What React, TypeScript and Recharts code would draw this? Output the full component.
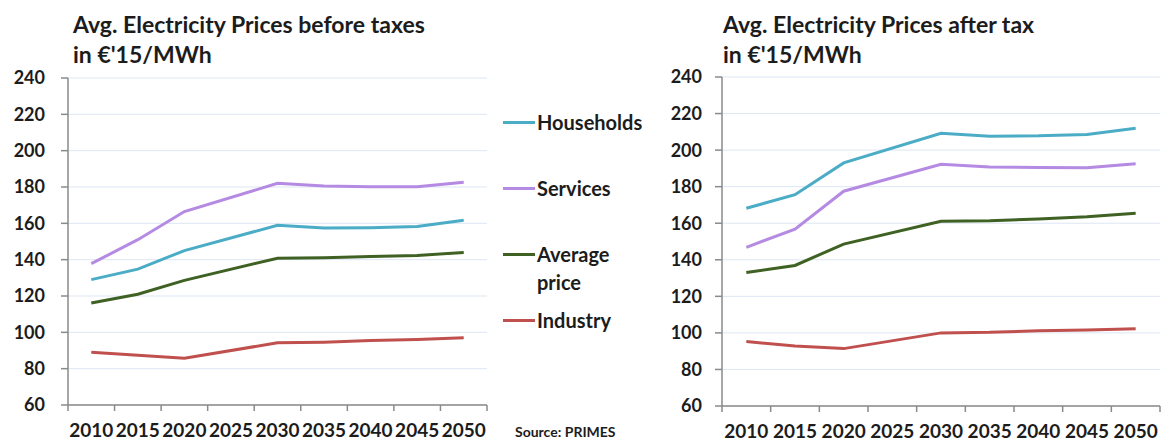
import React from "react";
import { LineChart, Line, XAxis, YAxis, CartesianGrid, Legend } from "recharts";

const years = [2010, 2015, 2020, 2025, 2030, 2035, 2040, 2045, 2050];
const yTicks = [60, 80, 100, 120, 140, 160, 180, 200, 220, 240];

// Before taxes (2025 has no point: line is drawn straight from 2020 to 2030)
const householdsBefore = [129, 134.8, 145, null, 158.9, 157.4, 157.6, 158.3, 161.7];
const servicesBefore = [137.8, 151, 166.5, null, 182, 180.6, 180.2, 180.1, 182.6];
const averageBefore = [116.2, 121, 128.6, null, 140.8, 141, 141.7, 142.3, 144];
const industryBefore = [89, 87.4, 85.8, null, 94.2, 94.6, 95.5, 96, 97];

// After tax
const householdsAfter = [168.2, 175.6, 193, null, 209.2, 207.6, 207.8, 208.6, 212];
const servicesAfter = [146.8, 156.8, 177.5, null, 192.2, 190.7, 190.5, 190.3, 192.5];
const averageAfter = [133, 136.9, 148.6, null, 161.1, 161.3, 162.3, 163.6, 165.5];
const industryAfter = [95.3, 92.8, 91.4, null, 100, 100.3, 101.2, 101.6, 102.3];

const seriesNames = ["Households", "Services", "Average price", "Industry"];
const seriesKeys = ["households", "services", "average", "industry"];
const seriesColors = ["#4bacc6", "#b58ae2", "#3f6123", "#c0504d"];

const legendLines: Record<string, string[]> = {
  Households: ["Households"],
  Services: ["Services"],
  "Average price": ["Average", "price"],
  Industry: ["Industry"],
};

const build = (a: (number | null)[], b: (number | null)[], c: (number | null)[], d: (number | null)[]) =>
  years.map((y, i) => ({ year: y, households: a[i], services: b[i], average: c[i], industry: d[i] }));

const dataBefore = build(householdsBefore, servicesBefore, averageBefore, industryBefore);
const dataAfter = build(householdsAfter, servicesAfter, averageAfter, industryAfter);

const boundaries = [...years.map((y) => y - 2.5), years[years.length - 1] + 2.5];

const FONT = "Lato, 'Open Sans', sans-serif";
const TEXT = "#1c1c1c";
const AXIS = "#8a8a8a";
const GRID = "#dde7f3";

const makeTick = (plotWidth: number) => (props: any) => {
  const { x, y, index } = props;
  if (index >= years.length) return <g />;
  const half = plotWidth / (years.length * 2);
  return (
    <text x={x + half} y={y} dy="0.71em" textAnchor="middle" fontSize={19} fontWeight={700} fill={TEXT} fontFamily={FONT}>
      {String(years[index])}
    </text>
  );
};

const renderLegend = (props: any) => {
  const payload = [...(props.payload || [])].sort(
    (a: any, b: any) => seriesNames.indexOf(a.value) - seriesNames.indexOf(b.value)
  );
  return (
    <div style={{ position: "relative", width: 160, height: 240, fontFamily: FONT }}>
      {payload.map((entry: any, i: number) => {
        const lines = legendLines[entry.value] || [entry.value];
        const cy = 22 + i * 66;
        return (
          <div key={entry.value}>
            <div style={{ position: "absolute", left: 3, top: cy - 1.5, width: 32, height: 3, background: entry.color }} />
            {lines.map((t: string, j: number) => (
              <div
                key={t}
                style={{
                  position: "absolute",
                  left: 37,
                  top: cy - 13 + j * 28,
                  lineHeight: "26px",
                  fontSize: 20,
                  fontWeight: 700,
                  color: TEXT,
                  whiteSpace: "nowrap",
                }}
              >
                {t}
              </div>
            ))}
          </div>
        );
      })}
    </div>
  );
};

const LEFT_W = 660;
const LEFT_MARGIN = { top: 78, right: 173, bottom: 0, left: 0 };
const LEFT_YW = 68;
const LEFT_PLOT_W = LEFT_W - LEFT_MARGIN.left - LEFT_MARGIN.right - LEFT_YW;

const RIGHT_W = 501;
const RIGHT_MARGIN = { top: 77, right: 1, bottom: 0, left: 0 };
const RIGHT_YW = 62;
const RIGHT_PLOT_W = RIGHT_W - RIGHT_MARGIN.left - RIGHT_MARGIN.right - RIGHT_YW;

function Panel({
  data,
  width,
  margin,
  yWidth,
  plotWidth,
  xHeight,
  yTickMargin,
  withLegend,
}: any) {
  return (
    <LineChart width={width} height={443} data={data} margin={margin}>
      <CartesianGrid horizontal vertical={false} stroke={GRID} strokeWidth={1} />
      <XAxis
        dataKey="year"
        type="number"
        domain={[boundaries[0], boundaries[boundaries.length - 1]]}
        ticks={boundaries}
        interval={0}
        height={xHeight}
        axisLine={{ stroke: AXIS, strokeWidth: 1.5 }}
        tickLine={{ stroke: AXIS, strokeWidth: 1.5 }}
        tickSize={6}
        tickMargin={13}
        tick={makeTick(plotWidth)}
      />
      <YAxis
        domain={[60, 240]}
        ticks={yTicks}
        interval={0}
        width={yWidth}
        axisLine={{ stroke: AXIS, strokeWidth: 1.5 }}
        tickLine={{ stroke: AXIS, strokeWidth: 1.5 }}
        tickSize={7}
        tickMargin={yTickMargin}
        tick={{ fontSize: 18, fontWeight: 700, fill: TEXT, fontFamily: FONT }}
      />
      {seriesKeys.map((k, i) => (
        <Line
          key={k}
          type="linear"
          dataKey={k}
          name={seriesNames[i]}
          stroke={seriesColors[i]}
          strokeWidth={3}
          dot={false}
          activeDot={false}
          connectNulls
          isAnimationActive={false}
        />
      ))}
      {withLegend && (
        <Legend
          layout="vertical"
          align="center"
          verticalAlign="middle"
          content={renderLegend}
          wrapperStyle={{ position: "absolute", left: 500, top: 100, width: 160, height: 240 }}
        />
      )}
    </LineChart>
  );
}

export default function App() {
  return (
    <div
      style={{
        position: "absolute",
        left: 0,
        top: 0,
        width: 1161,
        height: 443,
        background: "#ffffff",
        fontFamily: FONT,
        overflow: "hidden",
      }}
    >
      <div style={{ position: "absolute", left: 0, top: 0 }}>
        <Panel
          data={dataBefore}
          width={LEFT_W}
          margin={LEFT_MARGIN}
          yWidth={LEFT_YW}
          plotWidth={LEFT_PLOT_W}
          xHeight={38}
          yTickMargin={16}
          withLegend
        />
      </div>
      <div style={{ position: "absolute", left: 660, top: 0 }}>
        <Panel
          data={dataAfter}
          width={RIGHT_W}
          margin={RIGHT_MARGIN}
          yWidth={RIGHT_YW}
          plotWidth={RIGHT_PLOT_W}
          xHeight={37}
          yTickMargin={13}
          withLegend={false}
        />
      </div>
      <svg
        width={1161}
        height={443}
        style={{ position: "absolute", left: 0, top: 0, pointerEvents: "none" }}
        fontFamily={FONT}
        fontWeight={700}
        fill={TEXT}
      >
        <text x={73} y={33} fontSize={23}>Avg. Electricity Prices before taxes</text>
        <text x={73} y={63} fontSize={23}>in €'15/MWh</text>
        <text x={723} y={33} fontSize={23}>Avg. Electricity Prices after tax</text>
        <text x={723} y={63} fontSize={23}>in €'15/MWh</text>
        <text x={515} y={437} fontSize={14}>Source: PRIMES</text>
      </svg>
    </div>
  );
}
